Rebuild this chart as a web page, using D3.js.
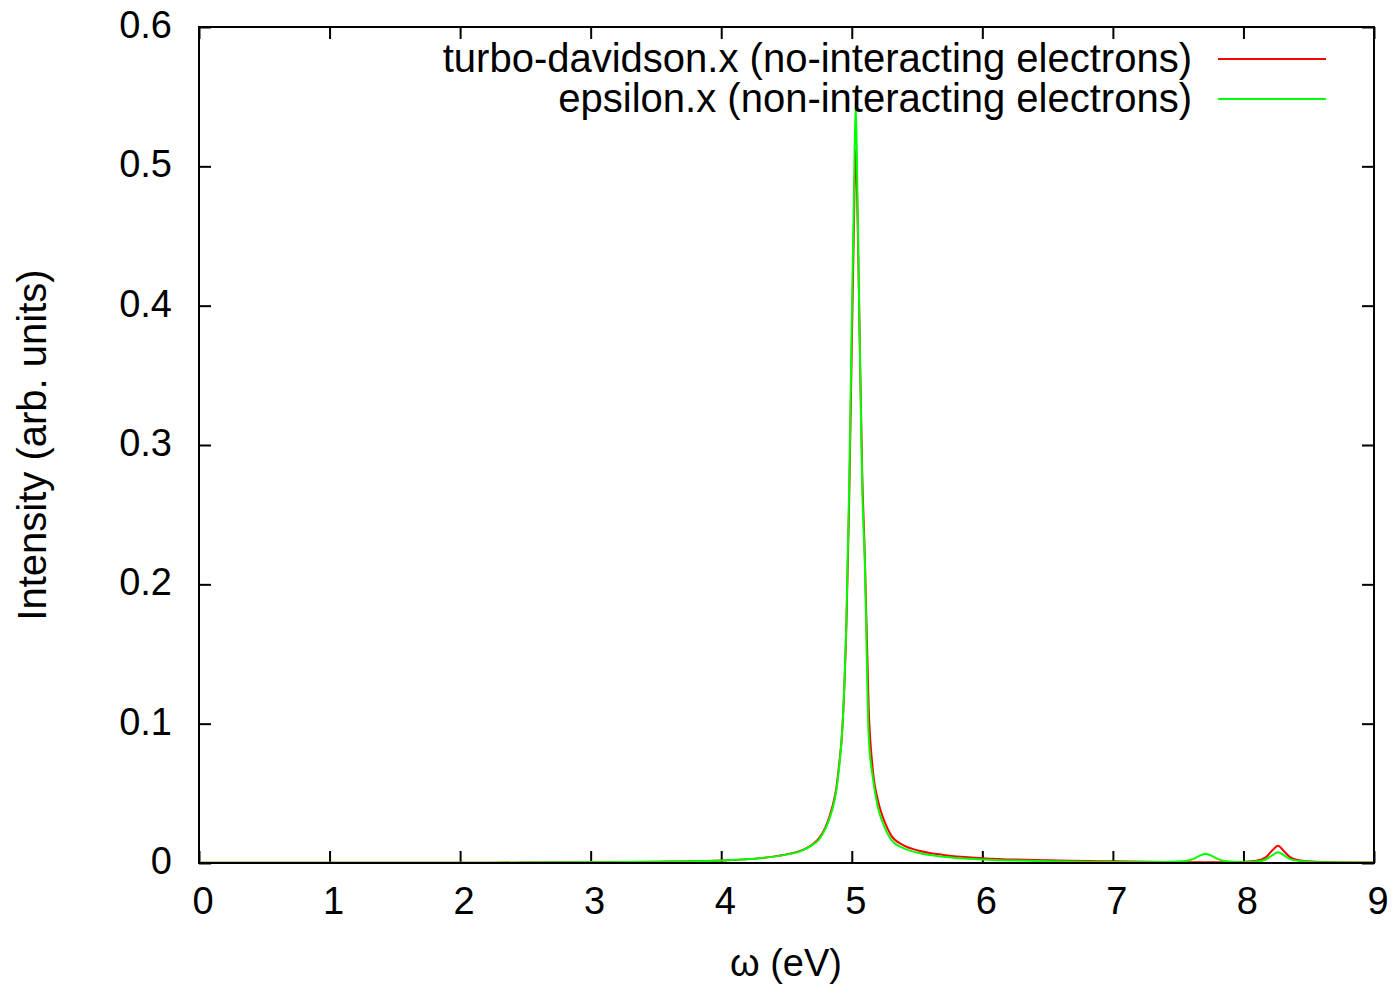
<!DOCTYPE html>
<html>
<head>
<meta charset="utf-8">
<script src="https://cdn.jsdelivr.net/npm/d3@7"></script>
<style>
  html, body { margin: 0; padding: 0; background: #fff; }
  svg { display: block; }
  text { font-family: "Liberation Sans", Arial, sans-serif; fill: #000; }
</style>
</head>
<body>
<svg id="chart" width="1393" height="986"></svg>
<script>
// ---- data ----
const omega = [0, 1, 2, 2.5, 3, 3.5, 4, 4.3, 4.5, 4.6, 4.7, 4.75, 4.8, 4.85, 4.88, 4.9, 4.93, 4.96, 4.98, 5.0, 5.015, 5.03, 5.045, 5.06, 5.08, 5.1, 5.13, 5.16, 5.2, 5.25, 5.3, 5.4, 5.5, 5.7, 6.0, 6.5, 7.0, 7.4, 7.55, 7.62, 7.67, 7.71, 7.75, 7.8, 7.87, 8.0, 8.1, 8.17, 8.22, 8.265, 8.31, 8.36, 8.45, 8.6, 9.0];
const turboValues = [0.0001, 0.0001, 0.0002, 0.0003, 0.0005, 0.0009, 0.0018, 0.0035, 0.0062, 0.0085, 0.0135, 0.0178, 0.026, 0.040, 0.053, 0.068, 0.10, 0.175, 0.26, 0.37, 0.45, 0.512, 0.46, 0.38, 0.28, 0.22, 0.11, 0.068, 0.045, 0.030, 0.020, 0.0125, 0.0092, 0.0058, 0.0035, 0.0019, 0.0012, 0.0008, 0.0006, 0.0005, 0.0005, 0.0005, 0.0005, 0.0005, 0.0005, 0.0008, 0.0016, 0.004, 0.009, 0.0124, 0.0085, 0.0040, 0.0016, 0.0007, 0.0003];
const epsilonValues = [0.0001, 0.0001, 0.0002, 0.0003, 0.0005, 0.0009, 0.0018, 0.0034, 0.0060, 0.0082, 0.013, 0.017, 0.025, 0.038, 0.051, 0.066, 0.10, 0.18, 0.27, 0.39, 0.47, 0.546, 0.47, 0.38, 0.27, 0.215, 0.09, 0.062, 0.040, 0.026, 0.017, 0.0105, 0.0075, 0.0045, 0.0026, 0.0013, 0.0008, 0.0008, 0.0015, 0.003, 0.0055, 0.0065, 0.0055, 0.003, 0.0013, 0.0006, 0.0010, 0.0025, 0.0055, 0.0077, 0.0055, 0.0028, 0.0012, 0.0005, 0.0002];
const seriesNames = ["turbo-davidson.x (no-interacting electrons)", "epsilon.x (non-interacting electrons)"];
const seriesColors = ["#ff0000", "#00ff00"];
const xTicks = [0, 1, 2, 3, 4, 5, 6, 7, 8, 9];
const yTicks = [0, 0.1, 0.2, 0.3, 0.4, 0.5, 0.6];
const xLabel = "ω (eV)";
const yLabel = "Intensity (arb. units)";

// ---- layout ----
const svg = d3.select("#chart");
const pLeft = 199, pRight = 1374, pTop = 27, pBottom = 863;
const x = d3.scaleLinear().domain([0, 9]).range([pLeft, pRight]);
const y = d3.scaleLinear().domain([0, 0.6]).range([pBottom, pTop]);
const tickLen = 12;
const fontSize = 38;
const bigFont = 40;

// ticks (gnuplot-style, inward on all four sides)
const g = svg.append("g");
g.append("g").attr("transform", `translate(0,${pBottom})`)
  .call(d3.axisBottom(x).tickValues(xTicks).tickSize(-tickLen).tickFormat(""))
  .call(a => a.select(".domain").remove());
g.append("g").attr("transform", `translate(0,${pTop})`)
  .call(d3.axisTop(x).tickValues(xTicks).tickSize(-tickLen).tickFormat(""))
  .call(a => a.select(".domain").remove());
g.append("g").attr("transform", `translate(${pLeft},0)`)
  .call(d3.axisLeft(y).tickValues(yTicks).tickSize(-tickLen).tickFormat(""))
  .call(a => a.select(".domain").remove());
g.append("g").attr("transform", `translate(${pRight},0)`)
  .call(d3.axisRight(y).tickValues(yTicks).tickSize(-tickLen).tickFormat(""))
  .call(a => a.select(".domain").remove());
g.selectAll(".tick line").attr("stroke", "#000").attr("stroke-width", 2);

// tick labels
svg.append("g").selectAll("text").data(xTicks).join("text")
  .attr("x", d => x(d) + 4).attr("y", pBottom + 41)
  .attr("dominant-baseline", "middle")
  .attr("text-anchor", "middle").attr("font-size", fontSize)
  .text(d => d3.format("d")(d));
svg.append("g").selectAll("text").data(yTicks).join("text")
  .attr("x", pLeft - 27).attr("y", d => y(d) + 1)
  .attr("dominant-baseline", "middle")
  .attr("text-anchor", "end").attr("font-size", fontSize)
  .text(d => d === 0 ? "0" : d3.format(".1f")(d));

// axis titles
svg.append("text").attr("x", 786).attr("y", 966)
  .attr("text-anchor", "middle").attr("dominant-baseline", "middle")
  .attr("font-size", fontSize).text(xLabel);
svg.append("text")
  .attr("transform", `translate(35,${(pTop + pBottom) / 2 + 0}) rotate(-90)`)
  .attr("text-anchor", "middle").attr("dominant-baseline", "middle")
  .attr("font-size", bigFont).text(yLabel);

// curves
const line = d3.line().x(d => x(d[0])).y(d => y(d[1])).curve(d3.curveMonotoneX);
const allSeries = [turboValues, epsilonValues];
allSeries.forEach((vals, i) => {
  svg.append("path")
    .datum(omega.map((w, j) => [w, vals[j]]))
    .attr("fill", "none").attr("stroke", seriesColors[i])
    .attr("stroke-width", 2).attr("stroke-linejoin", "round")
    .attr("d", line);
});

// frame
svg.append("rect").attr("x", pLeft).attr("y", pTop)
  .attr("width", pRight - pLeft).attr("height", pBottom - pTop)
  .attr("fill", "none").attr("stroke", "#000").attr("stroke-width", 2);

// legend
const legY = [59, 99];
seriesNames.forEach((name, i) => {
  svg.append("text").attr("x", 1192).attr("y", legY[i] + 2)
    .attr("text-anchor", "end").attr("dominant-baseline", "middle")
    .attr("font-size", bigFont).text(name);
  svg.append("line").attr("x1", 1218).attr("x2", 1326)
    .attr("y1", legY[i]).attr("y2", legY[i])
    .attr("stroke", seriesColors[i]).attr("stroke-width", 2);
});
</script>
</body>
</html>
